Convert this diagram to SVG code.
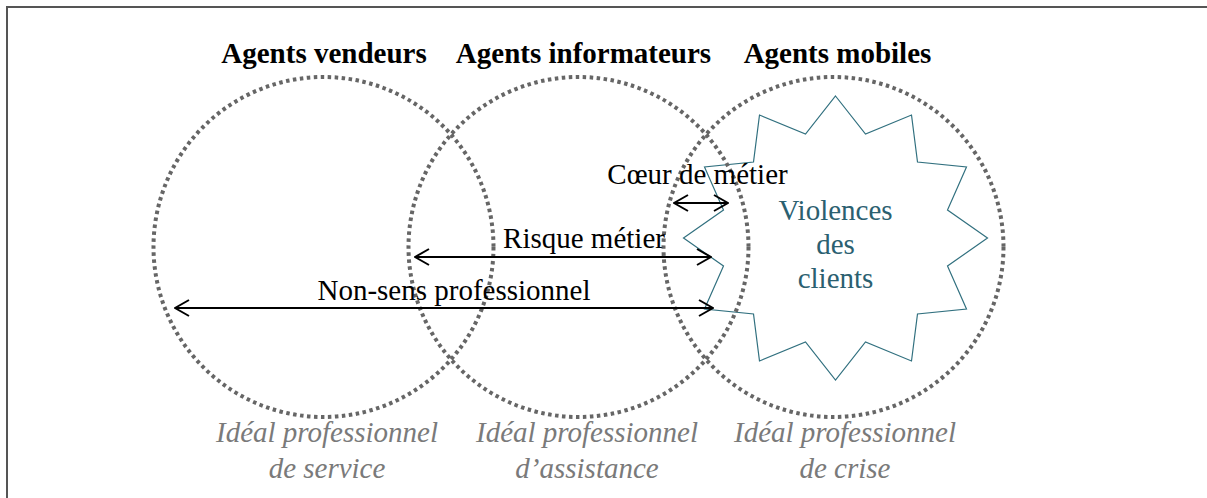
<svg xmlns="http://www.w3.org/2000/svg" width="1207" height="498" viewBox="0 0 1207 498">
<style>
.ring{fill:none;stroke:#666;stroke-width:4;stroke-dasharray:3.5 3.5}
.title{font-family:"Liberation Serif","Times New Roman",serif;font-size:29px;font-weight:bold;fill:#000;text-anchor:middle}
.ideal{font-family:"Liberation Serif","Times New Roman",serif;font-size:29px;font-style:italic;fill:#7a7a7a;text-anchor:middle}
.lbl{font-family:"Liberation Serif","Times New Roman",serif;font-size:29px;fill:#000;text-anchor:middle}
.viol{font-family:"Liberation Serif","Times New Roman",serif;font-size:29px;fill:#2b6070;text-anchor:middle}
.arr{stroke:#000;stroke-width:2;fill:none;marker-start:url(#ah);marker-end:url(#ah)}
</style>
<defs>
<marker id="ah" viewBox="0 0 16 18" refX="15" refY="9" markerWidth="16" markerHeight="18" markerUnits="userSpaceOnUse" orient="auto-start-reverse">
<path d="M1,1 L15,9 L1,17" fill="none" stroke="#000" stroke-width="2"/>
</marker>
</defs>
<rect x="7" y="7" width="1230" height="530" fill="#fff" stroke="#555" stroke-width="2"/>
<g id="star">
<polygon fill="none" stroke="#31707f" stroke-width="1.2" points="835.5,96 865.5,134 911.5,115 917.5,162 966.5,167 947.5,210 987.5,238 947.5,266 966.5,309 917.5,314 911.5,361 865.5,342 835.5,380 805.5,342 759.5,361 753.5,314 704.5,309 723.5,266 683.5,238 723.5,210 704.5,167 753.5,162 759.5,115 805.5,134"/>
<text class="viol" x="835.5" y="220">Violences</text>
<text class="viol" x="835.5" y="254">des</text>
<text class="viol" x="835.5" y="288">clients</text>
</g>
<g id="vendeurs">
<circle class="ring" cx="323.5" cy="247" r="170"/>
<text class="title" x="324" y="63">Agents vendeurs</text>
<text class="ideal" x="327" y="442">Idéal professionnel</text>
<text class="ideal" x="327" y="478">de service</text>
</g>
<g id="informateurs">
<circle class="ring" cx="578.5" cy="247" r="170"/>
<text class="title" x="583.5" y="63">Agents informateurs</text>
<text class="ideal" x="587" y="442">Idéal professionnel</text>
<text class="ideal" x="587" y="478">d’assistance</text>
</g>
<g id="mobiles">
<circle class="ring" cx="833.5" cy="247" r="170"/>
<text class="title" x="837.5" y="63">Agents mobiles</text>
<text class="ideal" x="845" y="442">Idéal professionnel</text>
<text class="ideal" x="845" y="478">de crise</text>
</g>
<g id="connectors">
<line class="arr" x1="674" y1="203" x2="728" y2="203"/>
<line class="arr" x1="415" y1="257" x2="711" y2="257"/>
<line class="arr" x1="175" y1="308" x2="713" y2="308"/>
<text class="lbl" x="697.5" y="184">Cœur de métier</text>
<text class="lbl" x="584" y="248">Risque métier</text>
<text class="lbl" x="454" y="300">Non-sens professionnel</text>
</g>
</svg>
